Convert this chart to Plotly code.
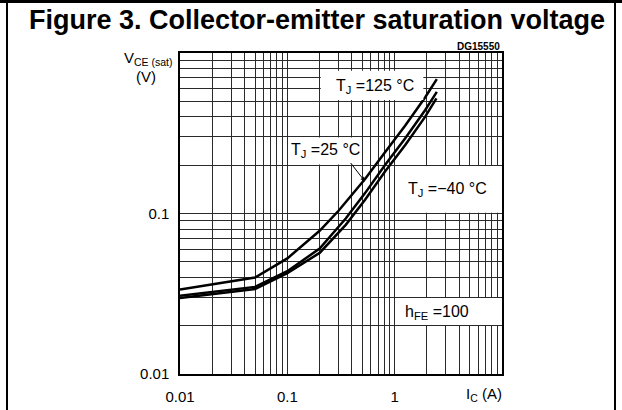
import numpy as np
import plotly.graph_objects as go

# ---- data ----
ic_125 = [0.01, 0.05, 0.1, 0.2, 0.3, 0.53, 0.81, 1.25, 1.92, 2.47]
vce_125 = [0.0336, 0.0399, 0.0525, 0.078, 0.104, 0.164, 0.240, 0.352, 0.528, 0.687]

ic_25 = [0.01, 0.05, 0.1, 0.2, 0.35, 0.53, 0.81, 1.25, 1.92, 2.47]
vce_25 = [0.0307, 0.0349, 0.0437, 0.0605, 0.093, 0.134, 0.200, 0.293, 0.440, 0.572]

ic_m40 = [0.01, 0.05, 0.1, 0.2, 0.35, 0.53, 0.81, 1.25, 1.92, 2.45]
vce_m40 = [0.0297, 0.0338, 0.0425, 0.0568, 0.085, 0.122, 0.182, 0.266, 0.400, 0.522]

x_decades = [0.01, 0.1, 1]
y_decades = [0.01, 0.1]
x_tick_labels = {0.01: "0.01", 0.1: "0.1", 1: "1"}
y_tick_labels = {0.01: "0.01", 0.1: "0.1"}

x_grid = [k * d for d in x_decades for k in range(1, 10)] + [10]
y_grid = [k * d for d in y_decades for k in range(1, 10)] + [1]

X_RANGE = [-2, 1]   # log10 of 0.01 .. 10 A
Y_RANGE = [-2, 0]   # log10 of 0.01 .. 1 V

def fmt(v, labels):
    for key, lab in labels.items():
        if abs(v - key) < 1e-9 * max(1, key):
            return lab
    return ""

FONT = "Liberation Sans, Arial, sans-serif"
W, H = 622, 410
ML, MR, MT, MB = 180, 120, 53, 36
PW, PH = W - ML - MR, H - MT - MB

def px(xp):
    return (xp - ML) / PW

def py(yp):
    return (H - MB - yp) / PH

def dx(v):  # data -> paper (x, log axis)
    return (np.log10(v) - X_RANGE[0]) / (X_RANGE[1] - X_RANGE[0])

def dy(v):  # data -> paper (y, log axis)
    return (np.log10(v) - Y_RANGE[0]) / (Y_RANGE[1] - Y_RANGE[0])

fig = go.Figure()
for ic, v, name in [(ic_125, vce_125, "T<sub>J</sub> = 125 °C"),
                    (ic_25, vce_25, "T<sub>J</sub> = 25 °C"),
                    (ic_m40, vce_m40, "T<sub>J</sub> = −40 °C")]:
    fig.add_trace(go.Scatter(x=ic, y=v, mode="lines", name=name,
                             line=dict(color="black", width=2.5)))

# white label boxes (aligned to grid cells)
boxes = [
    (0.205, 1.85, 0.51, 0.775),
    (0.102, 0.49, 0.202, 0.297),
    (1.02, 9.9, 0.101, 0.198),
    (1.02, 9.9, 0.0202, 0.0297),
]
shapes = []
for x0, x1, y0, y1 in boxes:
    shapes.append(dict(type="rect", xref="paper", yref="paper",
                       x0=dx(x0), x1=dx(x1), y0=dy(y0), y1=dy(y1),
                       fillcolor="white", line=dict(width=0), layer="above"))
# outer figure frame
shapes += [
    dict(type="line", xref="paper", yref="paper", x0=px(7), x1=px(7), y0=py(0), y1=py(410),
         line=dict(color="black", width=2)),
    dict(type="line", xref="paper", yref="paper", x0=px(615), x1=px(615), y0=py(0), y1=py(410),
         line=dict(color="black", width=2)),
    dict(type="line", xref="paper", yref="paper", x0=px(0), x1=px(622), y0=py(1.5), y1=py(1.5),
         line=dict(color="black", width=3)),
]

ann = []
def text(xp, yp, t, size=16, xanchor="center"):
    ann.append(dict(x=px(xp), y=py(yp), xref="paper", yref="paper", text=t,
                    showarrow=False, xanchor=xanchor, yanchor="middle",
                    font=dict(family=FONT, size=size, color="black")))

text(317, 20, "<b>Figure 3. Collector-emitter saturation voltage</b>", size=27)
text(502, 46, "<b>DG15550</b>", size=10, xanchor="right")
text(148, 58, "V<sub>CE (sat)</sub>", size=15)
text(146, 76, "(V)", size=15)
text(484, 395, "I<sub>C</sub> (A)", size=15)
text(375, 86, "T<sub>J</sub> =125 °C")
text(325, 150, "T<sub>J</sub> =25 °C")
text(447, 189, "T<sub>J</sub> =−40 °C")
text(437, 312, "h<sub>FE</sub> =100")

# arrow from 25 °C label to curve
ann.append(dict(x=px(365), y=py(181.5), xref="paper", yref="paper", text="",
                showarrow=True, ax=-15.5, ay=-20, arrowhead=2, arrowsize=0.9,
                arrowwidth=1, arrowcolor="black"))

fig.update_layout(
    width=W, height=H,
    margin=dict(l=ML, r=MR, t=MT, b=MB, pad=0),
    paper_bgcolor="white", plot_bgcolor="white",
    showlegend=False,
    shapes=shapes, annotations=ann,
    font=dict(family=FONT, size=15, color="black"),
    xaxis=dict(type="log", range=X_RANGE, tickmode="array", tickvals=x_grid,
               ticktext=[fmt(v, x_tick_labels) for v in x_grid],
               showgrid=True, gridcolor="#2a2a2a", gridwidth=1,
               showline=True, linecolor="black", linewidth=1.5, mirror=True,
               ticks="", ticklabelstandoff=8, zeroline=False, automargin=False,
               tickfont=dict(family=FONT, size=15)),
    yaxis=dict(type="log", range=Y_RANGE, tickmode="array", tickvals=y_grid,
               ticktext=[fmt(v, y_tick_labels) for v in y_grid],
               showgrid=True, gridcolor="#2a2a2a", gridwidth=1,
               showline=True, linecolor="black", linewidth=1.5, mirror=True,
               ticks="", ticklabelstandoff=6, zeroline=False, automargin=False,
               tickfont=dict(family=FONT, size=15)),
)

fig.write_html("out.html", config={"displayModeBar": False},
               post_script="document.body.style.margin='0px';")
